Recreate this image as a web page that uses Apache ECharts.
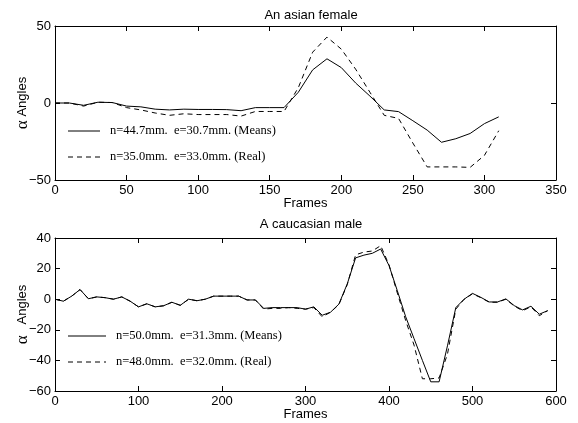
<!DOCTYPE html>
<html><head><meta charset="utf-8">
<script src="https://cdn.jsdelivr.net/npm/echarts@6/dist/echarts.min.js"></script>
<style>html,body{margin:0;padding:0;background:#fff}#c{width:578px;height:423px}</style>
</head><body><div id="c"></div>
<script>
const topFrames = [0,10,20,30,40,50,60,70,80,90,100,110,120,130,140,150,160,170,180,190,200,210,220,230,240,250,260,270,280,290,300,310];
const topMeans = [0,0,-1.5,0.5,0.3,-2,-2.5,-4,-4.5,-4,-4.2,-4.2,-4.3,-5,-3,-3,-3,7,21.5,28.7,23,13,4.5,-4.5,-5.6,-11.5,-17.6,-25.5,-23.2,-19.8,-13.4,-9];
const topReal = [0,0,-2,0.5,0.3,-3,-4.5,-6.5,-8,-7,-7.5,-7.5,-7.5,-8.5,-5.5,-5.5,-5.5,10,33,42.8,35,22,7,-8,-10,-26,-41.5,-41.5,-41.5,-41.8,-34,-18];

const botFrames = [0,10,20,30,40,50,60,70,80,90,100,110,120,130,140,150,160,170,180,190,200,210,220,230,240,250,260,270,280,290,300,310,320,330,340,350,360,370,380,390,400,410,420,430,440,450,460,470,480,490,500,510,520,530,540,550,560,570,580,590];
const botMeans = [0,-1.3,2,6.3,0.3,1.5,1,0,1.5,-1.3,-5,-3,-5,-4.3,-2,-4,0,-1,0,2,2,2,2,-0.5,-0.5,-6,-5.5,-5.5,-5.5,-5.5,-6.5,-5,-10.5,-8.5,-3.2,10,27,28.8,30,32.8,22,5.5,-11.5,-25.8,-40,-54,-54,-30.5,-5.5,0,3.8,1.2,-1.8,-1.8,0.2,-4.2,-7,-4.6,-9.8,-7.5];
const botReal = [0,-1.3,2,6.3,0.3,1.5,1,0,1.5,-1.3,-5,-3,-5,-4.3,-2,-4,0,-1,0,2,2,2,2,-0.5,-0.5,-6.5,-6,-6,-5.5,-6,-6.5,-5.5,-11.5,-8.5,-3.5,9.5,29,30.8,31.5,35,22.5,4,-14,-30,-52,-52,-51.5,-36,-6.5,0,3.5,1,-2,-2,0,-4.5,-7.5,-5,-10.8,-7.5];

const topLegend = ['n=44.7mm.  e=30.7mm. (Means)', 'n=35.0mm.  e=33.0mm. (Real)'];
const botLegend = ['n=50.0mm.  e=31.3mm. (Means)', 'n=48.0mm.  e=32.0mm. (Real)'];
const titles = ['An asian female', 'A caucasian male'];
const topXTicks = {min:0, max:350, interval:50};
const topYTicks = {min:-50, max:50, interval:50};
const botXTicks = {min:0, max:600, interval:100};
const botYTicks = {min:-60, max:40, interval:20};

const sans = 'Liberation Sans, Arial, Helvetica, sans-serif';
const serif = 'Liberation Serif, Times New Roman, serif';
const axLine = {show:true, onZero:false, lineStyle:{color:'#000', width:1}};
const tickIn = {show:true, inside:true, length:5, lineStyle:{color:'#000', width:1}};
const minus = v => String(v).replace('-', '\u2212');
const lbl = {color:'#000', fontFamily:sans, fontSize:13, formatter:minus};

function yNameOpt(spacer){ return {
  name: '{a|α}' + spacer + 'Angles', nameLocation:'middle', nameRotate:90, nameGap:24, nameMoveOverlap:false,
  nameTextStyle:{color:'#000', fontFamily:sans, fontSize:13,
    rich:{a:{fontFamily:serif, fontSize:17, color:'#000'}}}
};}

function xMain(grid, t){ return {type:'value', gridIndex:grid, position:'bottom', min:t.min, max:t.max, interval:t.interval,
  axisLine:axLine, axisTick:tickIn, splitLine:{show:false}, axisLabel:Object.assign({margin:4}, lbl),
  name:'Frames', nameLocation:'middle', nameGap:17, nameMoveOverlap:false, nameTextStyle:{color:'#000', fontFamily:sans, fontSize:13}}; }
function xMirror(grid, t){ return {type:'value', gridIndex:grid, position:'top', min:t.min, max:t.max, interval:t.interval,
  axisLine:axLine, axisTick:tickIn, splitLine:{show:false}, axisLabel:{show:false}}; }
function yMain(grid, t, spacer){ return Object.assign({type:'value', gridIndex:grid, position:'left', min:t.min, max:t.max, interval:t.interval,
  axisLine:axLine, axisTick:tickIn, splitLine:{show:false}, axisLabel:Object.assign({margin:4}, lbl)}, yNameOpt(spacer)); }
function yMirror(grid, t){ return {type:'value', gridIndex:grid, position:'right', min:t.min, max:t.max, interval:t.interval,
  axisLine:axLine, axisTick:tickIn, splitLine:{show:false}, axisLabel:{show:false}}; }

function zip(a,b){ return a.map((v,i)=>[v,b[i]]); }
function ser(name, xi, yi, xs, ys, dashed){
  return {name:name, type:'line', xAxisIndex:xi, yAxisIndex:yi, data:zip(xs,ys), symbol:'none', showSymbol:false,
    animation:false, silent:true,
    lineStyle:{color:'#000', width:1, type: dashed ? [5,4] : 'solid'}, itemStyle:{color:'#000'}};
}
function legendItem(x, y, len, text, dashed){
  return [
    {type:'line', shape:{x1:x, y1:y, x2:x+len, y2:y}, style:{stroke:'#000', lineWidth:1, lineDash: dashed ? [5,4] : null}, silent:true},
    {type:'text', x:x+len+10, y:y, style:{text:text, fill:'#000', font:'12.5px ' + serif, textVerticalAlign:'middle', verticalAlign:'middle'}, silent:true}
  ];
}

const chart = echarts.init(document.getElementById('c'), null, {renderer:'canvas'});
chart.setOption({
  animation:false,
  backgroundColor:'#fff',
  title:[
    {text:titles[0], left:306, top:4, textAlign:'center', textStyle:{fontFamily:sans, fontSize:13, fontWeight:'normal', color:'#000'}},
    {text:titles[1], left:306, top:213, textAlign:'center', textStyle:{fontFamily:sans, fontSize:13, fontWeight:'normal', color:'#000'}}
  ],
  grid:[
    {left:55, right:22, top:26, height:154, containLabel:false, outerBoundsMode:'none'},
    {left:55, right:22, top:238, height:153, containLabel:false, outerBoundsMode:'none'}
  ],
  graphic: [].concat(
    legendItem(68, 131, 32, topLegend[0], false),
    legendItem(68, 157, 32, topLegend[1], true),
    legendItem(68, 336, 38, botLegend[0], false),
    legendItem(68, 362, 38, botLegend[1], true)
  ),
  xAxis:[xMain(0, topXTicks), xMirror(0, topXTicks), xMain(1, botXTicks), xMirror(1, botXTicks)],
  yAxis:[yMain(0, topYTicks, ' '), yMirror(0, topYTicks), yMain(1, botYTicks, '   '), yMirror(1, botYTicks)],
  series:[
    ser(topLegend[0], 0, 0, topFrames, topMeans, false),
    ser(topLegend[1], 0, 0, topFrames, topReal, true),
    ser(botLegend[0], 2, 2, botFrames, botMeans, false),
    ser(botLegend[1], 2, 2, botFrames, botReal, true)
  ]
});
</script></body></html>
